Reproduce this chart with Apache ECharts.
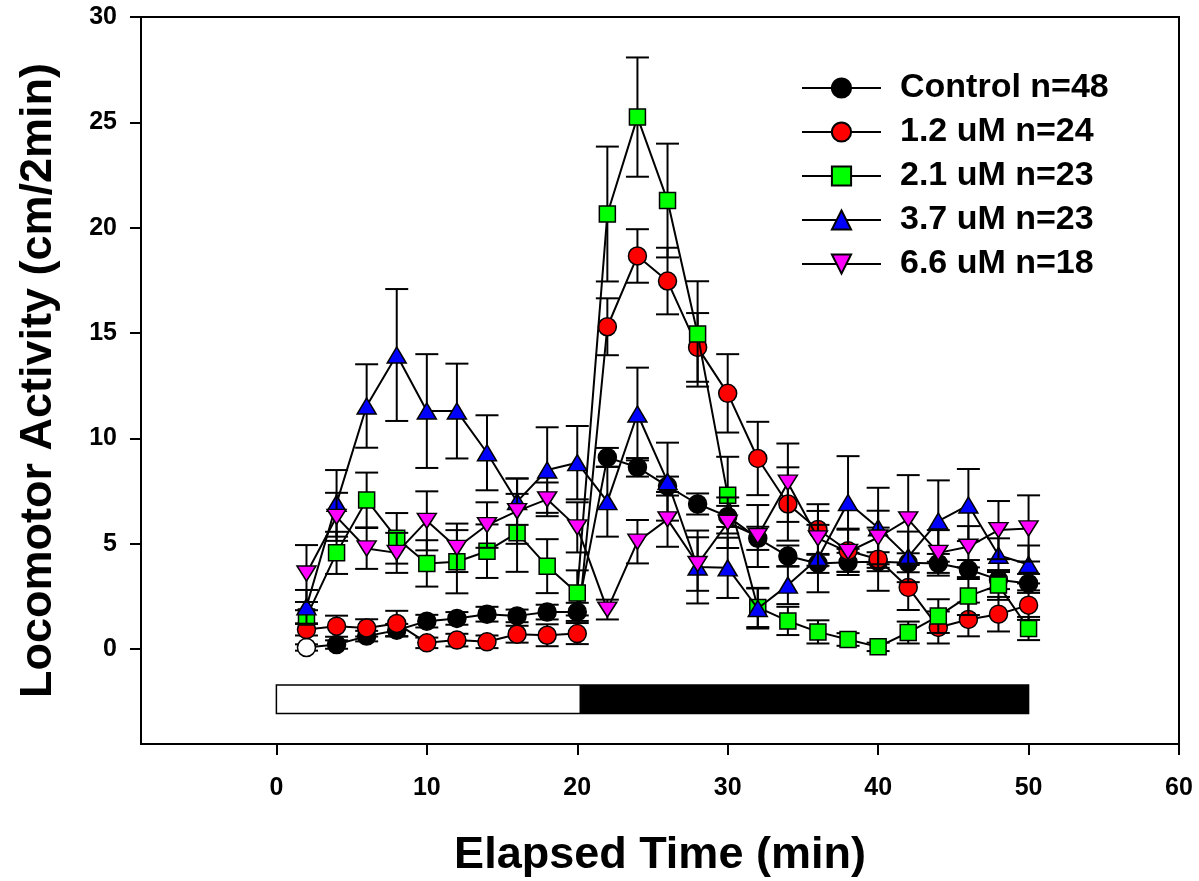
<!DOCTYPE html>
<html><head><meta charset="utf-8">
<script src="https://cdn.jsdelivr.net/npm/echarts@6/dist/echarts.min.js"></script>
<style>html,body{margin:0;padding:0;background:#fff}#c{width:1199px;height:881px}</style>
</head><body><div id="c"></div>
<script>
// ---- data ----
const elapsedTime = [2,4,6,8,10,12,14,16,18,20,22,24,26,28,30,32,34,36,38,40,42,44,46,48,50];
const seriesNames = ['Control n=48','1.2 uM n=24','2.1 uM n=23','3.7 uM n=23','6.6 uM n=18'];
const control     = [0.08,0.22,0.62,0.9,1.33,1.46,1.66,1.58,1.76,1.77,9.1,8.63,7.74,6.89,6.3,5.26,4.42,4.07,4.12,4.15,4.1,4.07,3.78,3.3,3.12];
const controlSem  = [0.15,0.2,0.25,0.3,0.3,0.3,0.35,0.3,0.35,0.43,0.45,0.44,0.45,0.5,0.5,0.55,0.5,0.45,0.45,0.45,0.45,0.45,0.45,0.45,0.45];
const dose12      = [0.93,1.09,1.01,1.22,0.3,0.43,0.35,0.71,0.66,0.74,15.3,18.66,17.47,14.32,12.14,9.05,6.89,5.68,4.67,4.27,2.93,1.03,1.41,1.66,2.09];
const dose12Sem   = [0.28,0.5,0.41,0.6,0.25,0.3,0.3,0.4,0.52,0.5,1.35,1.27,1.58,1.63,1.86,1.74,1.74,1.2,1.0,1.5,1.07,0.76,0.8,0.82,0.7];
const dose21      = [1.53,4.57,7.08,5.26,4.07,4.15,4.65,5.52,3.94,2.67,20.65,25.25,21.29,14.96,7.31,1.98,1.34,0.82,0.46,0.11,0.79,1.57,2.52,3.04,0.98];
const dose21Sem   = [0.32,1.0,1.3,1.2,1.1,1.5,1.27,1.85,1.28,1.07,3.2,2.83,2.7,2.5,1.82,0.93,0.67,0.55,0.3,0.2,0.52,0.8,0.9,0.7,0.55];
const dose37      = [2.01,6.92,11.54,13.96,11.3,11.3,9.32,7.0,8.5,8.85,7.0,11.16,7.95,3.9,3.86,1.93,3.04,4.3,6.96,5.76,4.38,6.08,6.84,4.46,4.02];
const dose37Sem   = [0.8,1.58,1.98,3.13,2.7,2.25,1.78,1.1,2.03,1.74,1.66,2.2,1.85,1.73,1.43,0.95,0.9,1.6,2.2,1.9,1.2,1.93,1.71,0.8,0.9];
const dose66      = [3.59,6.28,4.78,4.57,6.09,4.81,5.89,6.55,7.11,5.78,1.88,5.1,6.16,4.04,6.0,5.37,7.9,5.26,4.62,5.3,6.16,4.57,4.86,5.65,5.73];
const dose66Sem   = [1.35,1.14,0.97,0.95,1.4,1.15,1.08,1.55,0.8,1.19,0.47,1.03,1.3,1.27,1.2,1.47,1.86,1.3,1.1,1.27,2.1,1.08,0.98,1.38,1.57];
const xTicks = [0,10,20,30,40,50,60];
const yTicks = [0,5,10,15,20,25,30];
const lightPhase = [0, 20.2];
const darkPhase  = [20.3, 50];

// ---- build ----
const FONT = '"Liberation Sans", Arial, Helvetica, sans-serif';
const groups = [
  {vals: control, sem: controlSem, color:'#000000', symbol:'circle', size:18},
  {vals: dose12,  sem: dose12Sem,  color:'#ff0000', symbol:'circle', size:18},
  {vals: dose21,  sem: dose21Sem,  color:'#00ff00', symbol:'rect',   size:16},
  {vals: dose37,  sem: dose37Sem,  color:'#0000ff', symbol:'triangle', size:[19,16]},
  {vals: dose66,  sem: dose66Sem,  color:'#ff00ff', symbol:'path://M0,0L10,0L5,10Z', size:[19,15]}
];

function errRender(params, api){
  const x = api.value(0), y = api.value(1), e = api.value(2);
  const t = api.coord([x, y + e]), b = api.coord([x, y - e]);
  const hw = 11.5, st = {stroke:'#000', lineWidth:2};
  return {type:'group', children:[
    {type:'line', shape:{x1:t[0], y1:t[1], x2:b[0], y2:b[1]}, style:st},
    {type:'line', shape:{x1:t[0]-hw, y1:t[1], x2:t[0]+hw, y2:t[1]}, style:st},
    {type:'line', shape:{x1:b[0]-hw, y1:b[1], x2:b[0]+hw, y2:b[1]}, style:st}
  ]};
}

const series = [];
series.push({
  type:'custom', name:'phases', silent:true, z:2,
  data: [[lightPhase[0], lightPhase[1], 0], [darkPhase[0], darkPhase[1], 1]],
  encode:{x:[0,1]},
  renderItem: function(params, api){
    const p1 = api.coord([api.value(0), -1.7]);
    const p2 = api.coord([api.value(1), -3.05]);
    const dark = api.value(2) === 1;
    return {type:'rect', shape:{x:p1[0], y:p1[1], width:p2[0]-p1[0], height:p2[1]-p1[1]},
      style:{fill: dark ? '#000' : '#fff', stroke:'#000', lineWidth:1.5}};
  }
});
groups.forEach((g, i) => {
  series.push({
    type:'custom', name:'err'+i, silent:true, z:10+2*i,
    data: elapsedTime.map((x, k) => [x, g.vals[k], g.sem[k]]),
    encode:{x:0, y:1},
    renderItem: errRender
  });
  series.push({
    type:'line', name: seriesNames[i], z:11+2*i,
    data: elapsedTime.map((x, k) => {
      if (i === 0 && k === 0) return {value:[x, g.vals[k]], itemStyle:{color:'#fff'}};
      return [x, g.vals[k]];
    }),
    symbol: g.symbol, symbolSize: g.size, showAllSymbol:true,
    lineStyle:{color:'#000', width:2},
    itemStyle:{color:g.color, borderColor:'#000', borderWidth:1.5},
    emphasis:{disabled:true},
    animation:false
  });
});

const chart = echarts.init(document.getElementById('c'), null, {renderer:'canvas'});
chart.setOption({
  backgroundColor:'#fff',
  animation:false,
  grid:{left:141, right:20, top:17, bottom:137, show:true, borderColor:'#000', borderWidth:2, containLabel:false, outerBoundsMode:'none'},
  legend:{
    orient:'vertical', left:796, top:66, padding:5,
    itemWidth:79, itemHeight:24, itemGap:10,
    data: seriesNames, selectedMode:false,
    textStyle:{fontFamily:FONT, fontWeight:'bold', fontSize:34, lineHeight:34, color:'#000', padding:[0,0,0,14]}
  },
  xAxis:{
    type:'value', min:-9, max:60,
    axisLine:{show:true, onZero:false, lineStyle:{color:'#000', width:2}},
    axisTick:{show:true, inside:false, length:11, customValues:xTicks, lineStyle:{color:'#000', width:2}},
    axisLabel:{customValues:xTicks, margin:32, fontSize:25, fontWeight:'bold', fontFamily:FONT, color:'#000'},
    splitLine:{show:false},
    name:'Elapsed Time (min)', nameLocation:'middle', nameGap:89,
    nameTextStyle:{fontSize:45, fontWeight:'bold', fontFamily:FONT, color:'#000'}
  },
  yAxis:{
    type:'value', min:-4.5, max:30,
    axisLine:{show:true, onZero:false, lineStyle:{color:'#000', width:2}},
    axisTick:{show:true, inside:false, length:11, customValues:yTicks, lineStyle:{color:'#000', width:2}},
    axisLabel:{customValues:yTicks, margin:24, fontSize:25, fontWeight:'bold', fontFamily:FONT, color:'#000'},
    splitLine:{show:false},
    name:'Locomotor Activity (cm/2min)', nameLocation:'middle', nameGap:80,
    nameTextStyle:{fontSize:45, fontWeight:'bold', fontFamily:FONT, color:'#000'}
  },
  series: series
});
</script>
</body></html>
